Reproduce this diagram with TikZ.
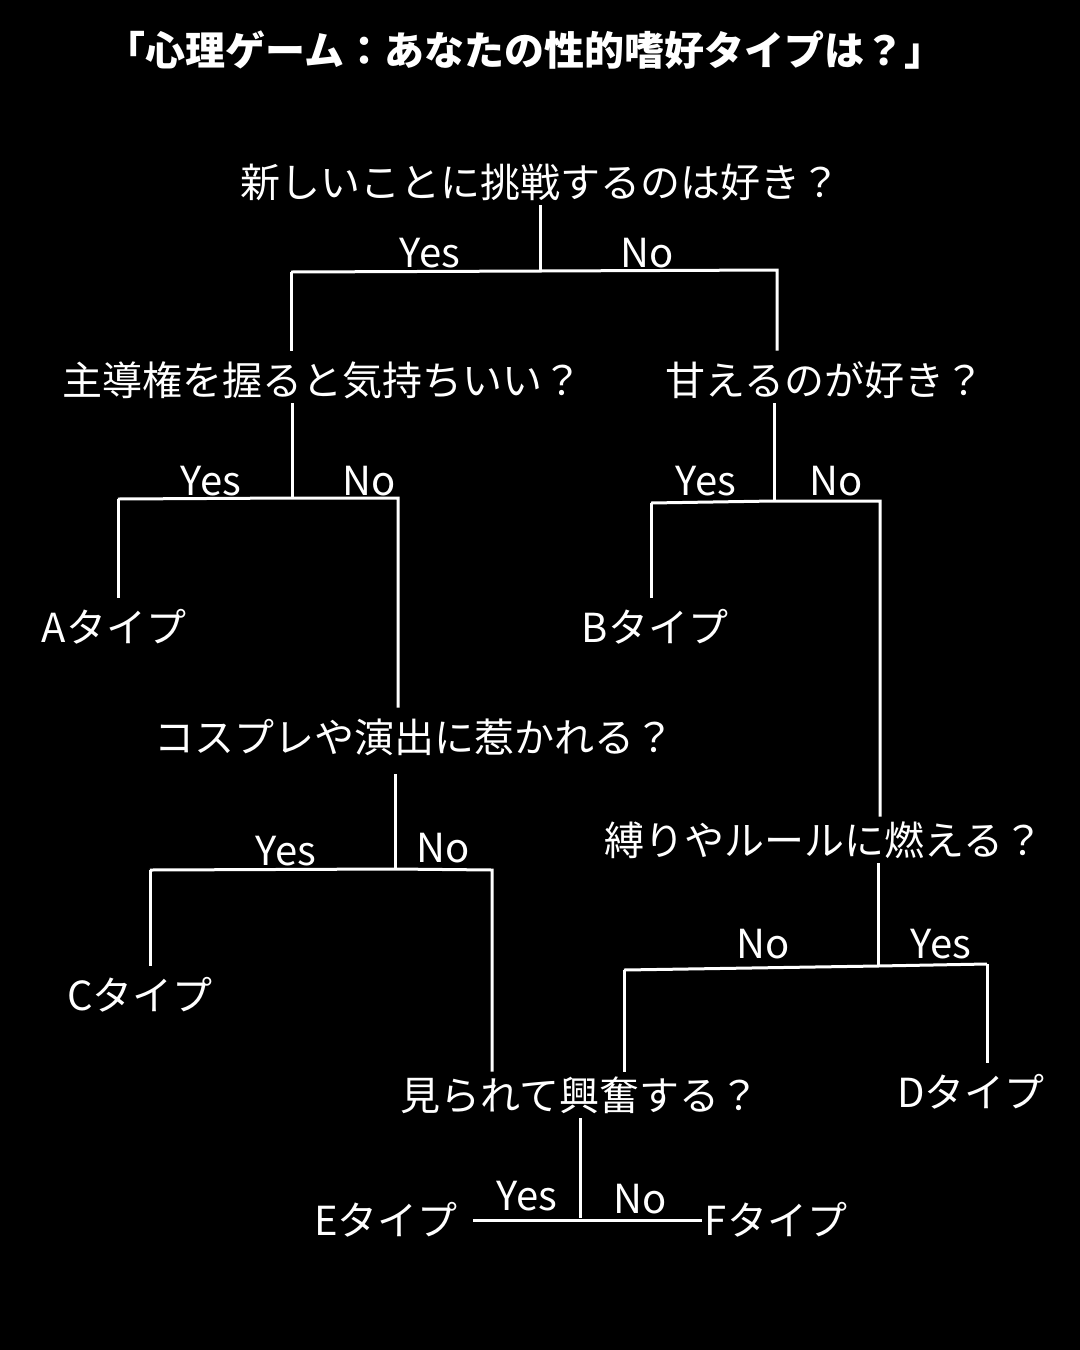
\documentclass[tikz,border=0pt]{standalone}
\usepackage{fontspec}
\setmainfont{Noto Sans CJK JP}
\usepackage{tikz}
\usetikzlibrary{positioning}

\begin{document}
\begin{tikzpicture}[x=0.5pt,y=-0.5pt,
  txt/.style={text=white,font=\fontsize{20pt}{24pt}\selectfont,inner sep=1.5pt,
    text height=17.6pt,text depth=2.4pt},
  ttl/.style={txt,font=\fontsize{20pt}{24pt}\selectfont\bfseries},
  ans/.style={txt,inner sep=0pt},
  tree/.style={white,line width=1.5pt}]
  \fill[black] (0,0) rectangle (1080,1350);
  \node[ttl] (T) at (525,50) {「心理ゲーム：あなたの性的嗜好タイプは？」};
  % questions and types
  \node[txt] (Q1) at (540,182) {新しいことに挑戦するのは好き？};
  \node[txt] (Q2a) at (322,380) {主導権を握ると気持ちいい？};
  \node[txt] (Q2b) at (825,380) {甘えるのが好き？};
  \node[txt] (TA) at (114,627) {Aタイプ};
  \node[txt] (TB) at (655,627) {Bタイプ};
  \node[txt] (Q3) at (414,737) {コスプレや演出に惹かれる？};
  \node[txt] (Q4) at (824,840) {縛りやルールに燃える？};
  \node[txt] (TC) at (140,995) {Cタイプ};
  \node[txt] (Q5) at (580,1095) {見られて興奮する？};
  \node[txt] (TD) at (971,1092) {Dタイプ};
  \node[txt] (TE) at (386,1220) {Eタイプ};
  \node[txt] (TF) at (776,1220) {Fタイプ};
  % first split
  \coordinate (J1) at (540,271);
  \coordinate (L1) at (291,272);
  \coordinate (R1) at (777,270);
  \draw[tree] (Q1.south) -- (J1);
  \draw[tree,shorten >=3pt] (L1) -- (J1) -- (R1) -- (Q2b.north -| R1);
  \draw[tree,shorten >=3pt] (L1) -- (Q2a.north -| L1);
  \node[ans] (Y1) at (430,252) {Yes};
  \node[ans] (N1) at (647,252) {No};
  % left question
  \coordinate (J2) at (292,498);
  \coordinate (L2) at (118,499);
  \coordinate (R2) at (398,498);
  \draw[tree] (Q2a.south -| J2) -- (J2);
  \draw[tree,shorten >=3pt] (L2) -- (J2) -- (R2) -- (Q3.north -| R2);
  \draw[tree,shorten >=3pt] (L2) -- (TA.north -| L2);
  \node[ans] (Y2) at (211,480) {Yes};
  \node[ans] (N2) at (369,480) {No};
  % right question
  \coordinate (J3) at (774,501);
  \coordinate (L3) at (651,503);
  \coordinate (R3) at (880,501);
  \draw[tree] (Q2b.south -| J3) -- (J3);
  \draw[tree] (L3) -- (J3) -- (R3) -- (Q4.north -| R3);
  \draw[tree,shorten >=3pt] (L3) -- (TB.north -| L3);
  \node[ans] (Y3) at (706,480) {Yes};
  \node[ans] (N3) at (836,480) {No};
  % cosplay
  \coordinate (J4) at (395,869);
  \coordinate (L4) at (150,870);
  \coordinate (R4) at (492,870);
  \draw[tree,shorten <=7pt] (Q3.south -| J4) -- (J4);
  \draw[tree] (L4) -- (J4) -- (R4) -- (Q5.north -| R4);
  \draw[tree,shorten >=3pt] (L4) -- (TC.north -| L4);
  \node[ans] (Y4) at (286,850) {Yes};
  \node[ans] (N4) at (443,847) {No};
  % rules
  \coordinate (J5) at (878,966);
  \coordinate (L5) at (624,970);
  \coordinate (R5) at (987,964);
  \draw[tree] (Q4.south -| J5) -- (J5);
  \draw[tree] (L5) -- (J5) -- (R5);
  \draw[tree] (L5) -- (Q5.north -| L5);
  \draw[tree,shorten >=3pt] (R5) -- (TD.north -| R5);
  \node[ans] (N5) at (763,943) {No};
  \node[ans] (Y5) at (941,943) {Yes};
  % watched
  \coordinate (J6) at (580,1218);
  \draw[tree] (Q5.south) -- (J6);
  \draw[tree,shorten <=6pt] (TE.east) -- (TF.west);
  \node[ans] (Y6) at (527,1195) {Yes};
  \node[ans] (N6) at (640,1198) {No};
\end{tikzpicture}
\end{document}
